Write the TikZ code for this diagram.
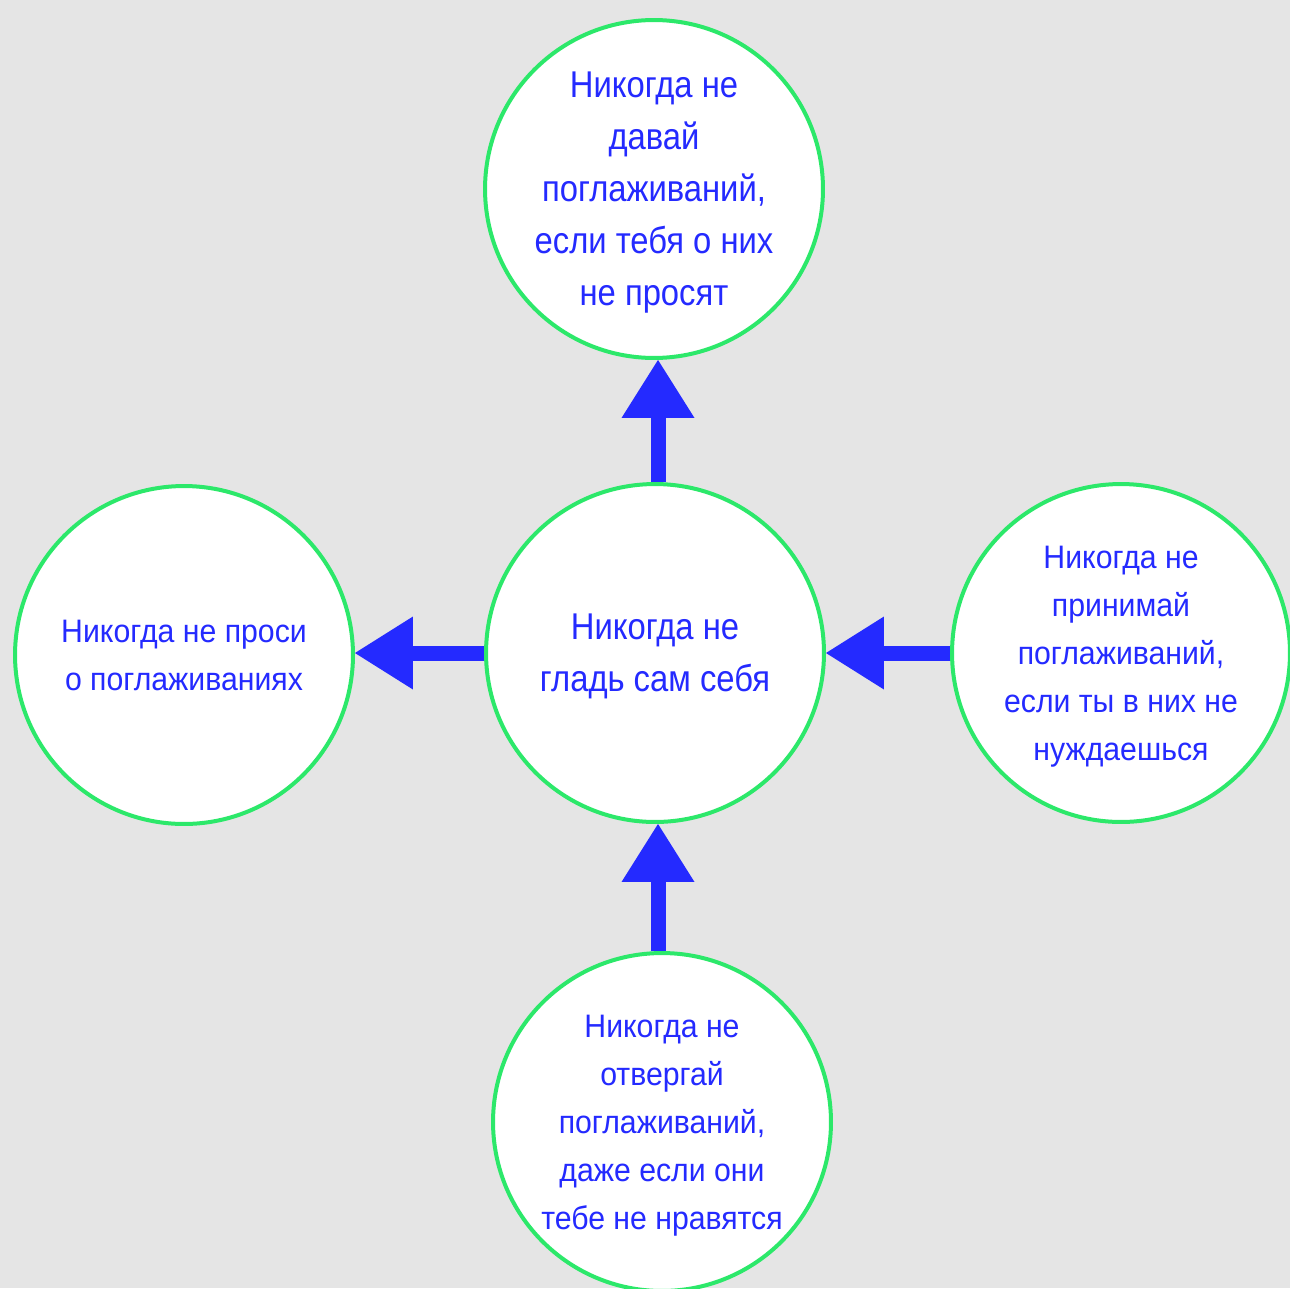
\documentclass[tikz,border=0pt]{standalone}
\usepackage{fontspec}
\usetikzlibrary{arrows.meta}
\newfontfamily\bigsans{Liberation Sans}[FakeStretch=0.88]
\newfontfamily\smallsans{Liberation Sans}[FakeStretch=0.93]
\definecolor{bggray}{RGB}{229,229,229}
\definecolor{rimgreen}{RGB}{44,232,106}
\definecolor{arrblue}{RGB}{36,42,255}

\begin{document}
\begin{tikzpicture}[x=0.02cm,y=-0.02cm,
	bubble/.style={circle,draw=rimgreen,line width=0.08cm,fill=white,minimum size=6.76cm,inner sep=0pt,text=arrblue,align=center},
	bigtxt/.style={font=\bigsans\fontsize{21.2}{29.6}\selectfont},
	smalltxt/.style={font=\smallsans\fontsize{18.5}{27.3}\selectfont},
	push/.style={color=arrblue,line width=0.3cm,-{Triangle[length=1.16cm,width=1.46cm,line width=0pt]}}]
	\fill[bggray] (0,0) rectangle (1290,1288);
	\useasboundingbox (0,0) rectangle (1290,1288);

	\node[bubble,bigtxt] at (654,189)(1){Никогда не\\давай\\поглаживаний,\\если тебя о них\\\smash{не просят}};
	\node[bubble,smalltxt] at (184,655)(2){Никогда не проси\\о поглаживаниях};
	\node[bubble,bigtxt] at (655,653)(3){Никогда не\\\smash{гладь сам себя}};
	\node[bubble,smalltxt] at (1121,653)(4){Никогда не\\принимай\\поглаживаний,\\если ты в них не\\\smash{нуждаешься}};
	\node[bubble,smalltxt] at (662,1122)(5){Никогда не\\отвергай\\поглаживаний,\\даже если они\\\smash{тебе не нравятся}};

	\path ([xshift=0.06cm]3.north)edge[push]([xshift=0.06cm]3.north|-1.south)
		(3.west)edge[push](3.west-|2.east)
		(4.west)edge[push](4.west-|3.east)
		([xshift=0.06cm]3.south|-5.north)edge[push]([xshift=0.06cm]3.south);
\end{tikzpicture}
\end{document}
